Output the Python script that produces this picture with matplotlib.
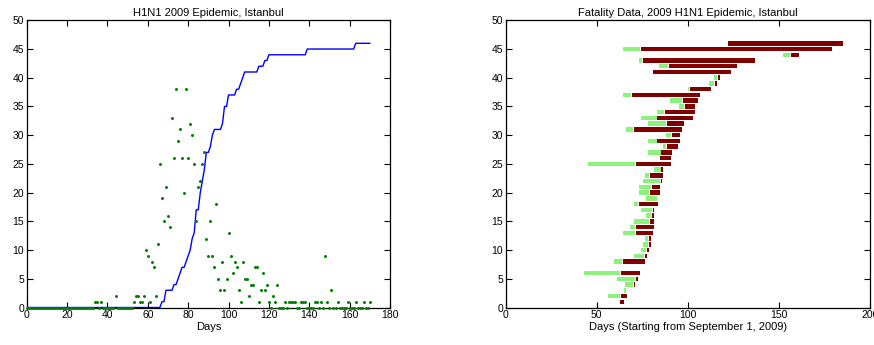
import numpy as np
import matplotlib
matplotlib.use("Agg")
import matplotlib.pyplot as plt

plt.rcParams['font.family'] = ['Liberation Sans', 'DejaVu Sans']
plt.rcParams['font.size'] = 7.5

# ---------------- Left panel data ----------------
# daily counts (days with nonzero counts); all other days 0..170 are zero
case_days = [34, 35, 37, 44, 53, 54, 55, 56, 57, 58, 59, 60, 61, 62, 63, 64, 65,
             66, 67, 68, 69, 70, 71, 72, 73, 74, 75, 76, 77, 78, 79, 80, 81, 82,
             83, 84, 85, 86, 87, 88, 89, 90, 91, 92, 93, 94, 95, 96, 97, 98, 99,
             100, 101, 102, 103, 104, 105, 106, 107, 108, 109, 110, 111, 112,
             113, 114, 115, 116, 117, 118, 119, 120, 122, 123, 124, 128, 130,
             131, 132, 133, 136, 137, 138, 143, 144, 146, 148, 149, 151, 154,
             159, 163, 167, 170]
case_counts = [1, 1, 1, 2, 1, 2, 2, 1, 1, 2, 10, 9, 1, 8, 7, 2, 11,
               25, 19, 15, 21, 16, 14, 33, 26, 38, 29, 31, 26, 20, 38, 26, 32, 30,
               25, 15, 21, 22, 25, 27, 12, 9, 15, 9, 7, 18, 5, 3, 8, 3, 5,
               13, 9, 6, 8, 7, 3, 1, 8, 5, 5, 2, 4, 4,
               7, 7, 1, 3, 6, 3, 4, 1, 2, 1, 4, 1, 1,
               1, 1, 1, 1, 1, 1, 1, 1, 1, 9, 1, 3, 1,
               1, 1, 1, 1]
last_day = 170

# cumulative fatalities (polyline vertices)
cum_days = [0, 66, 67, 68, 69, 72, 73, 74, 75, 76, 77, 78, 79, 80, 81, 82, 83,
            84, 85, 86, 87, 88, 89, 90, 91, 92, 93, 96, 97, 98, 99, 100, 103,
            104, 105, 106, 107, 108, 114, 115, 117, 118, 119, 120, 138, 139,
            162, 163, 170]
cum_vals = [0, 0, 1, 1, 3, 3, 4, 4, 5, 6, 7, 7, 8, 9, 10, 12, 13,
            17, 17, 20, 22, 24, 27, 27, 28, 30, 31, 31, 32, 35, 35, 37, 37,
            38, 38, 39, 40, 41, 41, 42, 42, 43, 43, 44, 44, 45,
            45, 46, 46]

# ---------------- Right panel data ----------------
# per fatality (rows 1..46): symptom onset, hospital admission, death
onset = [62.2, 56.3, 65.1, 65.3, 61.1, 43.2, 74.1, 59.3, 70.3, 74.3,
         75.2, 76.3, 64.2, 68.2, 70.3, 77.2, 74.3, 70.3, 77.2, 73.2,
         73.2, 75.2, 76.3, 81.2, 45.2, 84.2, 78.1, 86.4, 78.1, 88.2,
         66.0, 78.1, 74.3, 82.9, 95.1, 90.2, 64.2, 100.3, 111.4, 114.4,
         80.3, 84.2, 73.2, 152.2, 64.2, 121.3]
admit = [62.2, 63.0, 65.9, 69.7, 70.8, 62.9, 74.1, 63.9, 75.9, 76.9,
         77.9, 77.9, 70.8, 70.8, 78.9, 79.7, 80.5, 72.9, 82.9, 78.9,
         80.0, 84.9, 78.9, 85.0, 70.9, 84.2, 85.0, 87.9, 82.8, 91.0,
         69.7, 88.0, 82.8, 87.0, 97.8, 96.9, 68.9, 100.8, 114.2, 115.9,
         80.3, 89.1, 75.0, 156.0, 74.0, 121.3]
death = [64.8, 66.6, 66.6, 70.8, 72.6, 73.7, 74.7, 76.6, 77.6, 78.7,
         79.6, 79.6, 80.7, 81.6, 81.6, 81.6, 81.6, 83.6, 83.6, 84.7,
         84.7, 85.8, 86.5, 86.5, 90.7, 90.7, 91.5, 94.6, 95.7, 95.7,
         96.6, 98.0, 103.0, 103.9, 103.9, 105.7, 106.7, 112.7, 115.8, 117.6,
         123.9, 126.8, 136.9, 161.2, 179.0, 185.0]

# ---------------- Figure ----------------
fig = plt.figure(figsize=(8.74, 3.45), dpi=100)
W, H = 874, 345
ax1 = fig.add_axes([26.7 / W, 1 - 307.5 / H, 363.3 / W, 287.2 / H])
ax2 = fig.add_axes([505.7 / W, 1 - 307.5 / H, 364.3 / W, 287.2 / H])

def style(ax):
    ax.tick_params(direction='in', top=True, right=True, length=4, width=0.8,
                   labelsize=7.5, pad=2)
    for s in ax.spines.values():
        s.set_linewidth(0.9)

# left panel
days = np.arange(0, last_day + 1)
counts = np.zeros(len(days))
counts[case_days] = case_counts
ax1.plot(cum_days, cum_vals, color='#0000ff', lw=1.0, zorder=2)
ax1.plot(days, counts, linestyle='none', marker='.', markersize=2.3,
         color='#008000', zorder=3, clip_on=False)
ax1.set_xlim(0, 180)
ax1.set_ylim(0, 50)
ax1.set_xticks(np.arange(0, 181, 20))
ax1.set_yticks(np.arange(0, 51, 5))
ax1.set_title('H1N1 2009 Epidemic, Istanbul', fontsize=8, pad=3)
ax1.set_xlabel('Days', fontsize=8, labelpad=1)
style(ax1)

# right panel
rows = np.arange(1, len(death) + 1)
onset_a = np.array(onset)
admit_a = np.array(admit)
death_a = np.array(death)
bh = 0.78
ax2.barh(rows, admit_a - onset_a, left=onset_a, height=bh, color='#8cf27c',
         edgecolor='none', zorder=2)
ax2.barh(rows, death_a - admit_a - 0.5, left=admit_a + 0.5, height=bh,
         color='#800000', edgecolor='none', zorder=2)
ax2.set_xlim(0, 200)
ax2.set_ylim(0, 50)
ax2.set_xticks(np.arange(0, 201, 50))
ax2.set_yticks(np.arange(0, 51, 5))
ax2.set_title('Fatality Data, 2009 H1N1 Epidemic, Istanbul', fontsize=8, pad=3)
ax2.set_xlabel('Days (Starting from September 1, 2009)', fontsize=8, labelpad=1)
style(ax2)

fig.savefig('out.png', dpi=100)
